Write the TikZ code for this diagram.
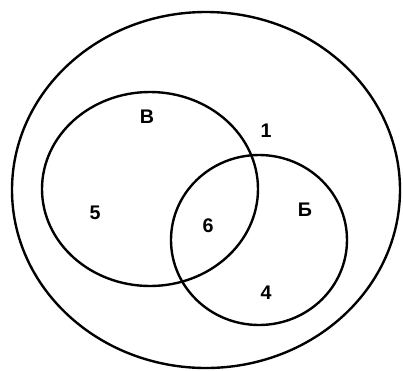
\documentclass[tikz,border=0pt]{standalone}
\usepackage{fontspec}
\setmainfont{Liberation Sans}
\usepackage{tikz}

\begin{document}
\begin{tikzpicture}[x=0.025cm, y=-0.025cm,
    ring/.style={line width=1.7pt},
    num/.style={font=\fontsize{14}{16}\selectfont\bfseries}]
    % 画布范围
    \useasboundingbox (0,0) rectangle (403,370);

    % 外圈（全集）
    \draw[ring] (206,190) ellipse (194 and 178);

    % 集合 В 与 Б
    \draw[ring] (150,189) ellipse (108 and 97);
    \draw[ring] (259,240) ellipse (88 and 85);

    % 各区域人数
    \node[num] (setV) at (147,117) {В};
    \node[num] (setB) at (305,210) {Б};
    \node[num] (none) at (266,131) {1};
    \node[num] (onlyV) at (95,213) {5};
    \node[num] (both) at (208,226) {6};
    \node[num] (onlyB) at (266,293) {4};
\end{tikzpicture}
\end{document}
